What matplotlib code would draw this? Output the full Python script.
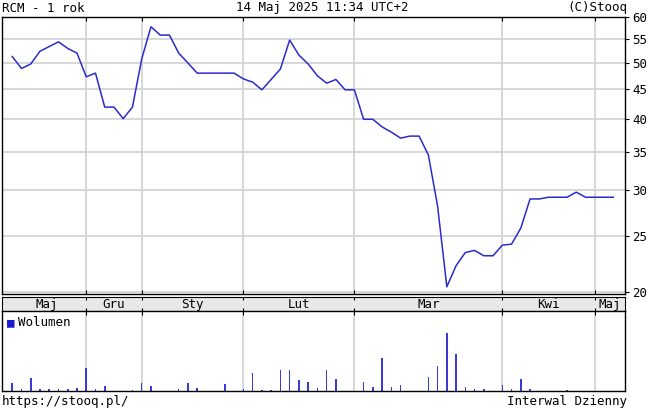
import matplotlib
matplotlib.use("Agg")
import matplotlib.pyplot as plt
from matplotlib.ticker import FixedLocator, NullLocator, NullFormatter

plt.rcParams['font.family'] = ['DejaVu Sans Mono']

# kurs zamkniecia (kolejne sesje)
close = [51.3, 48.9, 49.8, 52.4, 53.4, 54.4, 53.0, 52.0, 47.3, 48.0,
         41.9, 41.9, 40.0, 41.9, 50.8, 57.8, 55.9, 55.9, 52.0, 50.0,
         48.0, 48.0, 48.0, 48.0, 48.0, 46.9, 46.3, 44.9, 46.8, 48.8,
         54.8, 51.6, 49.8, 47.5, 46.1, 46.8, 44.9, 44.9, 39.9, 39.9,
         38.7, 37.9, 37.0, 37.3, 37.3, 34.6, 28.2, 20.4, 22.2, 23.4,
         23.6, 23.1, 23.1, 24.1, 24.2, 25.8, 29.0, 29.0, 29.2, 29.2,
         29.2, 29.8, 29.2, 29.2, 29.2, 29.2]

# wolumen (jednostki umowne)
volume = [8.3, 2, 12.7, 2, 2, 2, 2, 3.3, 23.3, 2,
          4.7, 0, 0, 1.3, 8.3, 4.7, 0, 0, 2, 8.3,
          3.3, 0, 0, 6.7, 0, 2, 17.7, 1.3, 1.3, 21,
          21, 10.7, 8.7, 2.7, 21, 11.7, 0, 0, 9.3, 3.7,
          33, 3.7, 6, 0, 0, 14, 24.7, 57.7, 36.7, 3.7,
          1.7, 2.3, 0, 6, 2, 11.7, 2, 0, 0, 0,
          1, 0, 0, 0, 0, 0]

month_starts = [8, 14, 25, 37, 53, 63]
month_labels = ['Maj', 'Gru', 'Sty', 'Lut', 'Mar', 'Kwi', 'Maj']
price_ticks = [20, 25, 30, 35, 40, 45, 50, 55, 60]

W, H = 649, 412
fig = plt.figure(figsize=(W / 100, H / 100), dpi=100)

def box(left, top, right, bottom):
    return [left / W, 1 - bottom / H, (right - left) / W, (bottom - top) / H]

x = list(range(len(close)))
xmin, xmax = -1.11, 66.27
line_col = '#2b2bcc'
bar_col = '#3a3ad6'
grid_col = '#d4d4d4'

ax = fig.add_axes(box(2, 17, 625, 294))
for m in month_starts:
    ax.axvline(m, color=grid_col, lw=1.3, zorder=0)
for p in price_ticks:
    ax.axhline(p, color=grid_col, lw=1.3, zorder=0)
ax.plot(x, close, color=line_col, lw=1.1)
ax.set_yscale('log')
ax.set_xlim(xmin, xmax)
ax.set_ylim(19.82, 60.1)
ax.yaxis.set_major_locator(FixedLocator(price_ticks))
ax.yaxis.set_minor_locator(NullLocator())
ax.yaxis.set_minor_formatter(NullFormatter())
ax.set_yticklabels([str(p) for p in price_ticks])
ax.yaxis.tick_right()
ax.tick_params(axis='y', length=3, width=0.8, pad=2, labelsize=9)
ax.set_xticks(month_starts)
ax.set_xticklabels([])
ax.tick_params(axis='x', top=True, bottom=True, direction='in', length=3, width=0.8)
for s in ax.spines.values():
    s.set_linewidth(1.0)

# pasek z miesiacami
band = fig.add_axes(box(2, 297, 625, 311))
band.set_facecolor('#e8e8e8')
band.set_xlim(xmin, xmax)
band.set_ylim(0, 1)
band.set_yticks([])
band.set_xticks(month_starts)
band.set_xticklabels([])
band.tick_params(axis='x', top=True, bottom=True, direction='in', length=2.5, width=0.8)
edges = [-0.5] + month_starts + [xmax]
for i, lab in enumerate(month_labels):
    band.text((edges[i] + edges[i + 1]) / 2, 0.45, lab, ha='center', va='center', fontsize=9)
for s in band.spines.values():
    s.set_linewidth(0.8)

# wolumen
axv = fig.add_axes(box(2, 311, 625, 391))
for m in month_starts:
    axv.axvline(m, color=grid_col, lw=1.3, zorder=0)
axv.bar(x, volume, width=0.17, color=bar_col)
axv.set_xlim(xmin, xmax)
axv.set_ylim(0, 80)
axv.set_yticks([])
axv.set_xticks(month_starts)
axv.set_xticklabels([])
axv.tick_params(axis='x', top=True, bottom=False, direction='in', length=3, width=0.8)
for s in axv.spines.values():
    s.set_linewidth(1.0)
axv.text(0.008, 0.85, '\u25a0', transform=axv.transAxes, color='#1a1ad0', fontsize=9, va='center')
axv.text(0.026, 0.85, 'Wolumen', transform=axv.transAxes, fontsize=9, va='center')

# naglowek i stopka
fig.text(2 / W, 1 - 8 / H, 'RCM - 1 rok', fontsize=9, va='center', ha='left')
fig.text(322 / W, 1 - 8 / H, '14 Maj 2025 11:34 UTC+2', fontsize=9, va='center', ha='center')
fig.text(627 / W, 1 - 8 / H, '(C)Stooq', fontsize=9, va='center', ha='right')
fig.text(2 / W, 1 - 401 / H, 'https://stooq.pl/', fontsize=9, va='center', ha='left')
fig.text(627 / W, 1 - 401 / H, 'Interwal Dzienny', fontsize=9, va='center', ha='right')

fig.savefig('out.png', dpi=100)
